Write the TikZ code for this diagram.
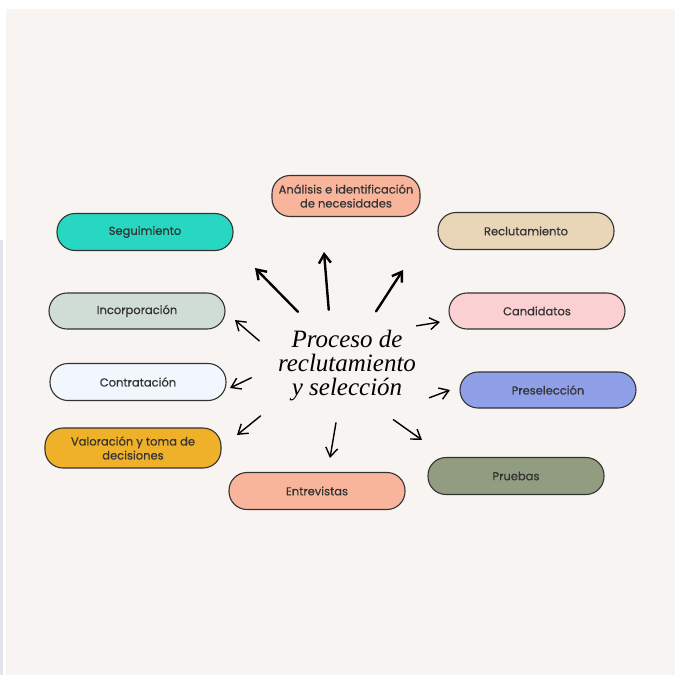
\documentclass[tikz,border=0pt]{standalone}
\usepackage{fontspec}
\setmainfont{Liberation Serif}
\newfontfamily\labelfont[FakeBold=0.5]{Poppins}
\usetikzlibrary{arrows.meta,shapes,positioning}
\definecolor{bgbeige}{HTML}{F8F4F1}
\definecolor{sidegray}{HTML}{E4E4EA}
\definecolor{peach}{HTML}{F8B59C}
\definecolor{teal}{HTML}{28D7C1}
\definecolor{sage}{HTML}{D0DDD4}
\definecolor{paleblue}{HTML}{F2F6FD}
\definecolor{amber}{HTML}{F0B12A}
\definecolor{tan}{HTML}{E9D6B8}
\definecolor{pink}{HTML}{FBD0D2}
\definecolor{periwinkle}{HTML}{8FA0E8}
\definecolor{olive}{HTML}{929C80}
\definecolor{ink}{HTML}{333333}

\tikzset{
    stage/.style={draw=ink, line width=1.1pt, rounded corners=18pt,
        minimum width=176pt, minimum height=37pt, inner sep=1pt,
        align=center, text=ink, font=\labelfont\fontsize{11.5}{14}\selectfont},
    spoke/.style={->, line width=1.4pt, line cap=round, draw=black},
    bigspoke/.style={spoke, line width=2.4pt},
}

\begin{document}
\begin{tikzpicture}[x=1pt,y=-1pt,>={Straight Barb[length=9pt,width=12pt]}]
        % background
        \fill[white] (0,0) rectangle (675,675);
        \fill[sidegray] (0,240) rectangle (3,675);
        \fill[bgbeige] (6,9) rectangle (675,675);

        % centre
        \node[ellipse, minimum width=152pt, minimum height=114pt, inner sep=0pt,
            align=center, font=\itshape\fontsize{25}{24}\selectfont] (title) at (347,366)
            {Proceso de\\reclutamiento\\y selección};

        % stages
        \node[stage, fill=peach, minimum width=148pt, minimum height=41pt] (ana) at (346,196) {Análisis e identificación\\de necesidades};
        \node[stage, fill=teal] (seg) at (145,232) {Seguimiento};
        \node[stage, fill=sage, minimum height=36pt] (inc) at (137,311) {Incorporación};
        \node[stage, fill=paleblue] (con) at (138,382) {Contratación};
        \node[stage, fill=amber, minimum height=40pt] (val) at (133,448) {Valoración y toma de\\decisiones};
        \node[stage, fill=peach] (ent) at (317,491) {Entrevistas};
        \node[stage, fill=tan] (rec) at (526,231) {Reclutamiento};
        \node[stage, fill=pink, minimum height=36pt] (can) at (537,311) {Candidatos};
        \node[stage, fill=periwinkle, minimum height=36pt] (pre) at (548,390) {Preselección};
        \node[stage, fill=olive] (pru) at (516,476) {Pruebas};

        % arrow tips
        \coordinate (tAna) at (324,252);
        \coordinate (tSeg) at (255,268);
        \coordinate (tRec) at (403,270);
        \coordinate (tInc) at (235,320);
        \coordinate (tCon) at (230,388);
        \coordinate (tVal) at (237,435);
        \coordinate (tEnt) at (330,458);
        \coordinate (tPru) at (422,440);
        \coordinate (tPre) at (450,390);
        \coordinate (tCan) at (440,322);

        \path
        (title.108) edge[bigspoke] (tAna)
        (title.132) edge[bigspoke, shorten <=5pt] (tSeg)
        (title.62)  edge[bigspoke] (tRec)
        (title.164) edge[spoke] (tInc)
        (title.187) edge[spoke] (tCon)
        (title.208) edge[spoke, shorten <=18pt] (tVal)
        (title.259) edge[spoke] (tEnt)
        (title.310) edge[spoke, shorten <=4pt] (tPru)
        (title.338) edge[spoke, shorten <=2pt] (tPre)
        (title.30)  edge[spoke] (tCan)
        ;
    \end{tikzpicture}
\end{document}
